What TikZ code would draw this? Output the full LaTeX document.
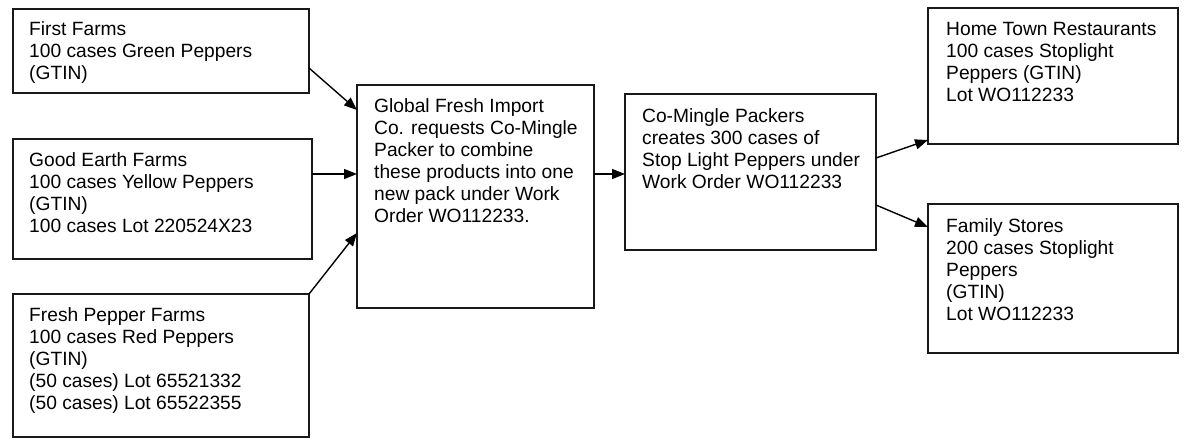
\documentclass[tikz,border=0pt]{standalone}
\usepackage{fontspec}
\setmainfont{Liberation Sans}
\usetikzlibrary{arrows.meta,calc}
\begin{document}
\begin{tikzpicture}[x=1pt,y=-1pt,
  box/.style={draw=black!90,line width=1.6pt,rectangle,inner sep=0pt,outer sep=0pt,anchor=north west},
  txt/.style={anchor=north west,inner sep=0pt,align=left,font=\fontsize{19.2}{22}\selectfont},
  arr/.style={line width=1.4pt,-{Triangle[length=13pt,width=10pt]}}]
\useasboundingbox[fill=white] (0,0) rectangle (1201,445);
% boxes
\node[box,minimum width=296pt,minimum height=84pt] (ff) at (13,9) {};
\node[box,minimum width=299pt,minimum height=120pt] (ge) at (13,139) {};
\node[box,minimum width=296pt,minimum height=143pt] (fp) at (13,294) {};
\node[box,minimum width=237pt,minimum height=223pt] (gl) at (357,85) {};
\node[box,minimum width=251pt,minimum height=156pt] (cm) at (625,94) {};
\node[box,minimum width=250pt,minimum height=136pt] (ht) at (928,8) {};
\node[box,minimum width=250pt,minimum height=149pt] (fs) at (928,204) {};
% texts (first baseline = top + offset; strut height 15.4)
\node[txt] (ffT) at ($(ff.north west)+(16,10.6)$) {\strut First Farms\\100 cases Green Peppers\\(GTIN)};
\node[txt] (geT) at ($(ge.north west)+(16,11.6)$) {\strut Good Earth Farms\\100 cases Yellow Peppers\\(GTIN)\\100 cases Lot 220524X23};
\node[txt] (fpT) at ($(fp.north west)+(16,11.6)$) {\strut Fresh Pepper Farms\\100 cases Red Peppers\\(GTIN)\\(50 cases) Lot 65521332\\(50 cases) Lot 65522355};
\node[txt] (glT) at ($(gl.north west)+(17,11.6)$) {\strut Global Fresh Import\\Co. requests Co-Mingle\\Packer to combine\\these products into one\\new pack under Work\\Order WO112233.};
\node[txt] (cmT) at ($(cm.north west)+(17,12.6)$) {\strut Co-Mingle Packers\\creates 300 cases of\\Stop Light Peppers under\\Work Order WO112233};
\node[txt] (htT) at ($(ht.north west)+(18,11.6)$) {\strut Home Town Restaurants\\100 cases Stoplight\\Peppers (GTIN)\\Lot WO112233};
\node[txt] (fsT) at ($(fs.north west)+(18,12.6)$) {\strut Family Stores\\200 cases Stoplight\\Peppers\\(GTIN)\\Lot WO112233};
% connectors
\draw[arr] ($(ff.north east)+(0,59)$) -- ($(gl.north west)+(0,25)$);
\draw[arr] ($(ge.north east)+(0,35)$) -- ($(gl.north west)+(0,89)$);
\draw[arr] (fp.north east) -- ($(gl.north west)+(0,148)$);
\draw[arr] ($(gl.north east)+(0,89)$) -- ($(cm.north west)+(0,80)$);
\draw[arr] ($(cm.north east)+(0,64)$) -- ($(ht.south west)+(0,-4)$);
\draw[arr] ($(cm.north east)+(0,111)$) -- ($(fs.north west)+(0,23)$);
\end{tikzpicture}
\end{document}
